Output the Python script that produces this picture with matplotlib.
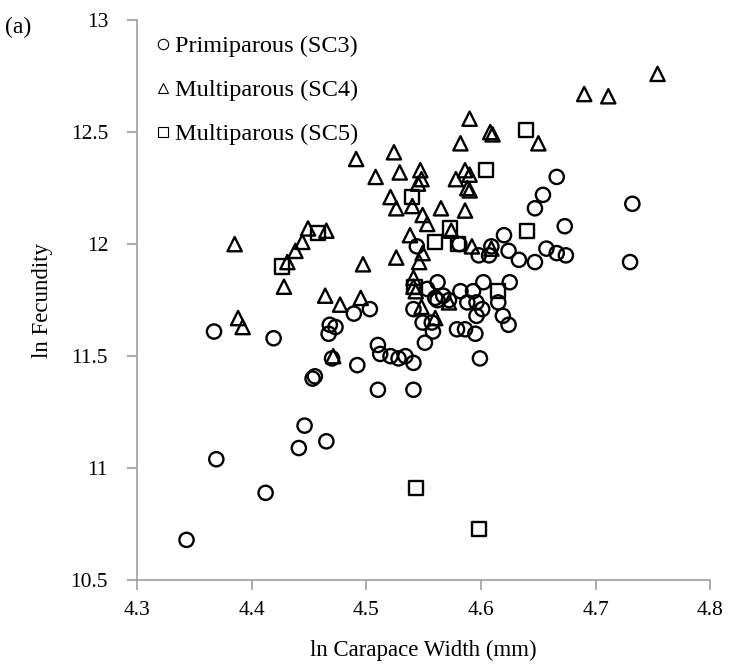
import matplotlib.pyplot as plt
from matplotlib.lines import Line2D

plt.rcParams['font.family'] = ['Liberation Serif', 'DejaVu Serif']

# ln carapace width (mm) and ln fecundity for each stage class
sc3_x = [4.343, 4.369, 4.367, 4.412, 4.419, 4.441, 4.446, 4.453, 4.455, 4.465,
         4.467, 4.468, 4.473, 4.470, 4.489, 4.492, 4.503, 4.510, 4.512, 4.510,
         4.521, 4.528, 4.534, 4.541, 4.541, 4.541, 4.544, 4.549, 4.551, 4.553,
         4.557, 4.558, 4.560, 4.562, 4.562, 4.567, 4.572, 4.579, 4.582, 4.581,
         4.586, 4.588, 4.593, 4.595, 4.596, 4.596, 4.598, 4.599, 4.601, 4.602,
         4.607, 4.609, 4.615, 4.619, 4.620, 4.624, 4.624, 4.625, 4.633, 4.647,
         4.647, 4.654, 4.657, 4.666, 4.666, 4.673, 4.674, 4.730, 4.732]
sc3_y = [10.68, 11.04, 11.61, 10.89, 11.58, 11.09, 11.19, 11.40, 11.41, 11.12,
         11.60, 11.64, 11.63, 11.49, 11.69, 11.46, 11.71, 11.55, 11.51, 11.35,
         11.50, 11.49, 11.50, 11.47, 11.35, 11.71, 11.99, 11.65, 11.56, 11.80,
         11.65, 11.61, 11.76, 11.83, 11.75, 11.77, 11.75, 11.62, 11.79, 12.00,
         11.62, 11.74, 11.79, 11.60, 11.74, 11.68, 11.95, 11.49, 11.71, 11.83,
         11.95, 11.99, 11.74, 11.68, 12.04, 11.97, 11.64, 11.83, 11.93, 11.92,
         12.16, 12.22, 11.98, 11.96, 12.30, 12.08, 11.95, 11.92, 12.18]

sc4_x = [4.385, 4.388, 4.392, 4.428, 4.431, 4.438, 4.444, 4.449, 4.465, 4.464,
         4.471, 4.477, 4.491, 4.495, 4.497, 4.508, 4.521, 4.524, 4.526, 4.526,
         4.529, 4.538, 4.540, 4.541, 4.543, 4.541, 4.547, 4.548, 4.545, 4.546,
         4.549, 4.548, 4.549, 4.553, 4.560, 4.565, 4.572, 4.578, 4.582, 4.586,
         4.586, 4.588, 4.590, 4.590, 4.590, 4.592, 4.608, 4.610, 4.609, 4.650,
         4.690, 4.711, 4.754, 4.574]
sc4_y = [12.00, 11.67, 11.63, 11.81, 11.92, 11.97, 12.01, 12.07, 12.06, 11.77,
         11.50, 11.73, 12.38, 11.76, 11.91, 12.30, 12.21, 12.41, 12.16, 11.94,
         12.32, 12.04, 12.17, 11.85, 11.79, 11.81, 12.33, 12.29, 12.27, 11.92,
         11.96, 11.72, 12.13, 12.09, 11.67, 12.16, 11.74, 12.29, 12.45, 12.33,
         12.15, 12.25, 12.24, 12.31, 12.56, 11.99, 12.50, 12.49, 11.98, 12.45,
         12.67, 12.66, 12.76, 12.06]

sc5_x = [4.426, 4.458, 4.540, 4.542, 4.560, 4.573, 4.580, 4.604, 4.615, 4.640,
         4.639, 4.543, 4.598]
sc5_y = [11.90, 12.05, 12.21, 11.81, 12.01, 12.07, 12.00, 12.33, 11.79, 12.06,
         12.51, 10.91, 10.73]

labels = ['Primiparous (SC3)', 'Multiparous (SC4)', 'Multiparous (SC5)']
x_ticks = [4.3, 4.4, 4.5, 4.6, 4.7, 4.8]
y_ticks = [10.5, 11, 11.5, 12, 12.5, 13]

fig = plt.figure(figsize=(7.3, 6.7), dpi=100)
ax = fig.add_axes([0.188, 0.134, 0.785, 0.836])

style = dict(facecolor='none', edgecolors='black', linewidths=1.7, s=105)
ax.scatter(sc3_x, sc3_y, marker='o', **style)
ax.scatter(sc4_x, sc4_y, marker='^', **style)
ax.scatter(sc5_x, sc5_y, marker='s', **style)

ax.set_xlim(4.3, 4.8)
ax.set_ylim(10.5, 13)
ax.set_xticks(x_ticks)
ax.set_xticklabels([str(t) for t in x_ticks])
ax.set_yticks(y_ticks)
ax.set_yticklabels([f'{t:g}' for t in y_ticks])

for side in ['top', 'right']:
    ax.spines[side].set_visible(False)
for side in ['left', 'bottom']:
    ax.spines[side].set_color('#a0a0a0')
    ax.spines[side].set_linewidth(1.2)
ax.tick_params(colors='#a0a0a0', labelcolor='black', labelsize=15.5,
               length=7, width=1.2)
ax.tick_params(axis='x', pad=8)
ax.tick_params(axis='y', pad=14)

ax.set_xlabel('ln Carapace Width (mm)', fontsize=16.5, labelpad=14)
ax.set_ylabel('ln Fecundity', fontsize=16.5, labelpad=13)

handles = [Line2D([], [], linestyle='none', marker=m, markersize=7.5,
                  markerfacecolor='none', markeredgecolor='black',
                  markeredgewidth=0.8) for m in ['o', '^', 's']]
ax.legend(handles, labels, loc='upper left', bbox_to_anchor=(0.015, 0.99),
          frameon=False, fontsize=17.5, handlelength=0.6, handletextpad=0.2,
          labelspacing=0.9, borderaxespad=0)

fig.text(0.007, 0.975, '(a)', fontsize=17, va='top')

fig.savefig('out.png', dpi=100)
